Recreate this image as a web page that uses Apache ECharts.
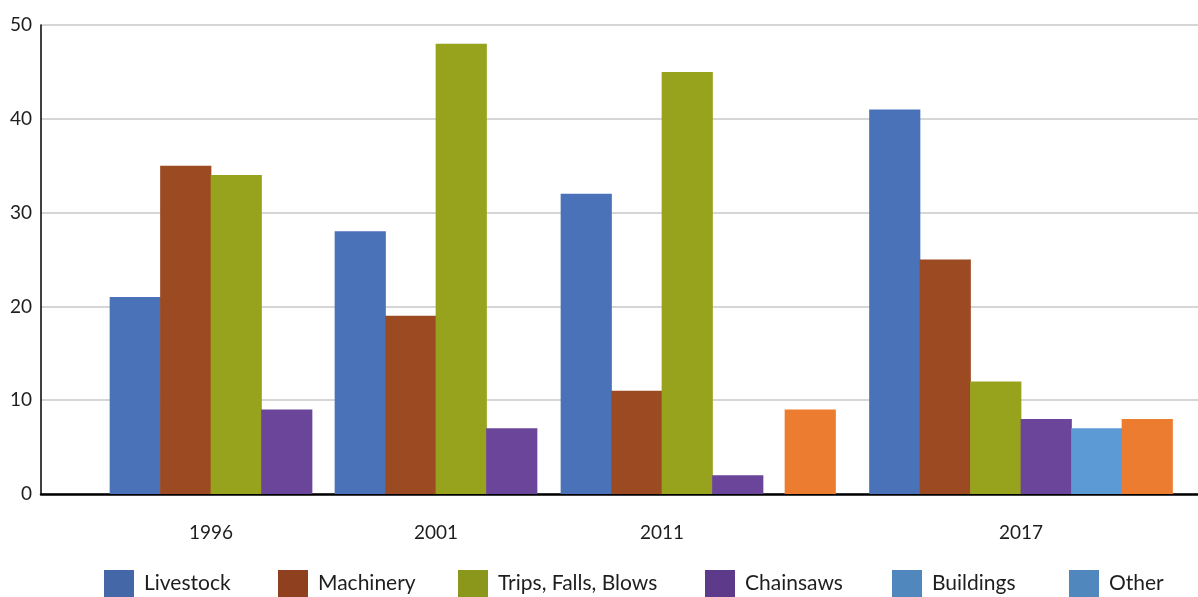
<!DOCTYPE html>
<html>
<head>
<meta charset="utf-8">
<title>Accidents by cause</title>
<script src="https://cdn.jsdelivr.net/npm/echarts@6/dist/echarts.min.js"></script>
<style>
  html, body { margin: 0; padding: 0; background: #fff; }
  #chart { width: 1198px; height: 597px; }
</style>
</head>
<body>
<div id="chart"></div>
<script>
// Groups along the x axis (the fourth group carries an unlabeled bar)
const categories = ['1996', '2001', '2011', '', '2017'];

const seriesNames = ['Livestock', 'Machinery', 'Trips, Falls, Blows', 'Chainsaws', 'Buildings', 'Other'];

const livestock = [21, 28, 32, null, 41];
const machinery = [35, 19, 11, null, 25];
const trips     = [34, 48, 45, null, 12];
const chainsaws = [9, 7, 2, null, 8];
const buildings = [null, null, null, null, 7];
const other     = [null, null, null, 9, 8];

const yMin = 0, yMax = 50, yStep = 10;

// Styling
const barColors    = ['#4a72b8', '#9c4a22', '#97a31d', '#6b459a', '#5b9ad4', '#ec7d30'];
const legendColors = ['#4467a8', '#8f401f', '#8b971a', '#5e3b8a', '#5087bd', '#5087bd'];
const FONT = 'Lato, "Open Sans", sans-serif';

// Horizontal layout in plot pixels: bars of each group are packed side by side
const PLOT_W = 1157;
const BAR_W = 50.5;
const LEAD = 69;
const GROUP_GAPS = [23, 24, 22, 34];
const LEGEND_LEFT = [104, 278, 458, 705, 892, 1069];

const values = [livestock, machinery, trips, chainsaws, buildings, other];
const seriesData = values.map(() => []);
const labelCenters = [];
let cursor = LEAD;
categories.forEach((cat, g) => {
  const members = values.map((arr, s) => s).filter(s => values[s][g] != null);
  members.forEach((s, k) => {
    seriesData[s].push([cursor + (k + 0.5) * BAR_W, values[s][g]]);
  });
  if (cat) labelCenters.push({ v: cursor + members.length * BAR_W / 2, name: cat });
  cursor += members.length * BAR_W + (GROUP_GAPS[g] || 0);
});

const chart = echarts.init(document.getElementById('chart'), null, { renderer: 'canvas' });

chart.setOption({
  animation: false,
  backgroundColor: '#ffffff',
  textStyle: { fontFamily: FONT },
  grid: { left: 41, right: 0, top: 25, bottom: 103, containLabel: false },
  legend: seriesNames.map((name, i) => ({
    data: [{ name: name, itemStyle: { color: legendColors[i] } }],
    left: LEGEND_LEFT[i],
    top: 565,
    padding: [5, 0, 0, 0],
    itemWidth: 30,
    itemHeight: 27,
    itemGap: 0,
    icon: 'rect',
    selectedMode: false,
    textStyle: { fontFamily: FONT, fontSize: 21, color: '#1e1e1e', padding: [0, 0, 0, 5] }
  })),
  xAxis: {
    type: 'value',
    min: 0,
    max: PLOT_W,
    splitLine: { show: false },
    axisTick: { show: false },
    axisLine: { show: true, onZero: false, lineStyle: { color: '#000', width: 2.5 } },
    axisLabel: {
      customValues: labelCenters.map(d => d.v),
      margin: 29,
      fontSize: 19,
      fontFamily: FONT,
      color: '#1e1e1e',
      formatter: function (v) {
        const hit = labelCenters.find(d => Math.abs(d.v - v) < 0.01);
        return hit ? hit.name : '';
      }
    }
  },
  yAxis: {
    type: 'value',
    min: yMin,
    max: yMax,
    interval: yStep,
    axisLine: { show: true, lineStyle: { color: '#000', width: 1.5 } },
    axisTick: { show: false },
    splitLine: { show: true, lineStyle: { color: '#d6d6d6', width: 2 } },
    axisLabel: { fontSize: 19, fontFamily: FONT, color: '#1e1e1e', margin: 9 }
  },
  series: seriesNames.map((name, i) => ({
    name: name,
    type: 'bar',
    // drawn a hair wider than the slot so neighbouring bars meet without seams
    barWidth: BAR_W + 0.7,
    barGap: '-100%',
    data: seriesData[i],
    itemStyle: { color: barColors[i] },
    emphasis: { disabled: true }
  }))
});
</script>
</body>
</html>
